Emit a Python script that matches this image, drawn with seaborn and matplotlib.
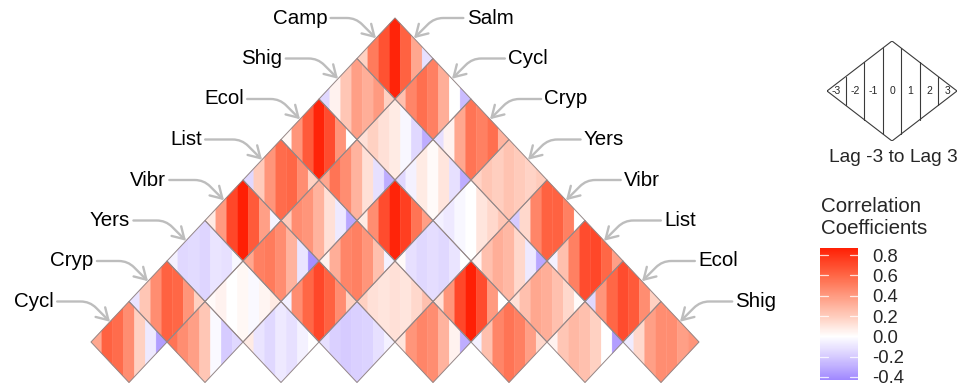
import numpy as np
import matplotlib
matplotlib.use("Agg")
import matplotlib.pyplot as plt
from matplotlib.collections import PolyCollection
from matplotlib.colors import LinearSegmentedColormap, Normalize
from matplotlib.cm import ScalarMappable
import seaborn as sns

sns.set_theme(style="white")
plt.rcParams["font.family"] = ["Liberation Sans", "DejaVu Sans"]

# Pathogens in order along the base of the triangle
pathogens = ["Salm", "Cycl", "Cryp", "Yers", "Vibr", "List", "Ecol", "Shig", "Camp"]
lags = [-3, -2, -1, 0, 1, 2, 3]

# Lagged cross-correlations (lag -3 .. 3) for each pair (a, b), grouped by
# separation b - a; within a group pairs are ordered by a.
corr_sep8 = [[0.18, 0.52, 0.68, 0.85, 0.62, 0.35, -0.12]]
corr_sep7 = [[-0.15, 0.05, 0.22, 0.38, 0.32, 0.40, 0.18],
             [0.25, 0.48, 0.57, 0.50, 0.32, 0.00, -0.25]]
corr_sep6 = [[0.03, 0.42, 0.65, 0.85, 0.70, 0.42, 0.00],
             [0.12, 0.18, 0.12, 0.08, -0.03, -0.15, -0.30],
             [-0.12, 0.05, 0.35, 0.55, 0.50, 0.57, 0.30]]
corr_sep5 = [[-0.15, 0.20, 0.42, 0.58, 0.60, 0.45, 0.18],
             [0.35, 0.55, 0.45, 0.30, 0.12, -0.12, -0.30],
             [-0.15, -0.05, 0.08, 0.02, 0.10, -0.12, -0.30],
             [0.17, 0.22, 0.19, 0.24, 0.20, 0.17, 0.20]]
corr_sep4 = [[0.08, 0.40, 0.72, 0.87, 0.65, 0.38, -0.04],
             [0.20, 0.45, 0.42, 0.30, 0.12, -0.08, -0.32],
             [0.08, 0.45, 0.70, 0.85, 0.75, 0.55, 0.38],
             [-0.05, -0.08, -0.03, 0.00, 0.10, 0.15, 0.22],
             [-0.20, 0.15, 0.48, 0.62, 0.62, 0.50, 0.00]]
corr_sep3 = [[-0.05, -0.15, -0.14, -0.16, -0.10, -0.12, -0.03],
             [0.35, 0.50, 0.52, 0.45, 0.30, -0.10, -0.40],
             [0.05, 0.32, 0.48, 0.50, 0.42, 0.25, -0.05],
             [0.02, -0.12, -0.15, -0.13, -0.15, -0.10, 0.00],
             [0.05, 0.25, 0.32, 0.28, 0.15, -0.08, -0.32],
             [-0.05, 0.25, 0.50, 0.70, 0.72, 0.60, 0.38]]
corr_sep2 = [[-0.10, 0.22, 0.45, 0.62, 0.60, 0.42, 0.18],
             [0.02, 0.05, 0.00, 0.03, -0.02, 0.04, 0.08],
             [-0.05, 0.45, 0.60, 0.72, 0.62, 0.45, 0.18],
             [0.18, 0.12, 0.10, 0.12, 0.10, 0.15, 0.25],
             [0.12, 0.42, 0.72, 0.87, 0.70, 0.40, 0.00],
             [0.12, 0.25, 0.35, 0.32, 0.25, 0.15, 0.02],
             [-0.15, 0.42, 0.60, 0.70, 0.65, 0.45, 0.18]]
corr_sep1 = [[0.35, 0.62, 0.58, 0.45, 0.18, -0.08, -0.35],
             [0.55, 0.45, 0.38, 0.22, -0.02, -0.20, -0.15],
             [0.08, -0.10, -0.15, -0.08, -0.12, -0.05, 0.00],
             [-0.12, -0.18, -0.20, -0.18, -0.17, -0.12, -0.05],
             [0.10, 0.42, 0.48, 0.45, 0.30, 0.05, -0.30],
             [-0.05, 0.25, 0.48, 0.55, 0.50, 0.38, 0.15],
             [0.05, 0.22, 0.28, 0.25, 0.18, 0.00, -0.35],
             [-0.07, 0.15, 0.38, 0.45, 0.45, 0.38, 0.42]]

corr_by_sep = {8: corr_sep8, 7: corr_sep7, 6: corr_sep6, 5: corr_sep5,
               4: corr_sep4, 3: corr_sep3, 2: corr_sep2, 1: corr_sep1}

vmin, vmax = -0.43, 0.87
anchors = [(-0.43, "#A088FF"), (-0.2, "#D6CBFF"), (0.0, "#FFFFFF"),
           (0.2, "#FFCCBC"), (0.4, "#FF9A80"), (0.6, "#FF6746"), (0.87, "#FF2005")]
cmap = LinearSegmentedColormap.from_list(
    "corr", [((v - vmin) / (vmax - vmin), c) for v, c in anchors])
norm = Normalize(vmin=vmin, vmax=vmax)

W, H = 968, 388
fig = plt.figure(figsize=(W / 100, H / 100), dpi=100)
fig.patch.set_facecolor("white")

# main axes: x = a + b, y = b - a, each diamond spans +-1 around its centre
ax = fig.add_axes([0, 0, 1, 1])
px_x, px_y = 38.0, 40.5
x0_px, y0_px = 91.0, 382.5
ax.set_xlim(2 - x0_px / px_x, 2 + (W - x0_px) / px_x)
ax.set_ylim(-(H - y0_px) / px_y, y0_px / px_y)
ax.axis("off")


def strip_polys(cx, cy, n=7):
    edges = np.linspace(-1, 1, n + 1)
    polys = []
    for u0, u1 in zip(edges[:-1], edges[1:]):
        top = [(u0, 1 - abs(u0))]
        if u0 < 0 < u1:
            top.append((0.0, 1.0))
        top.append((u1, 1 - abs(u1)))
        bottom = [(u, -h) for (u, h) in reversed(top)]
        polys.append([(cx + u, cy + h) for u, h in top + bottom])
    return polys


strips, values, outlines = [], [], []
for sep, rows in corr_by_sep.items():
    for i, vals in enumerate(rows):
        a = i + 1
        b = a + sep
        cx, cy = a + b, sep
        strips.extend(strip_polys(cx, cy, len(lags)))
        values.extend(vals)
        outlines.append([(cx - 1, cy), (cx, cy + 1), (cx + 1, cy), (cx, cy - 1)])

pc = PolyCollection(strips, array=np.array(values), cmap=cmap, norm=norm,
                    edgecolors="face", linewidths=0.3)
ax.add_collection(pc)
ax.add_collection(PolyCollection(outlines, facecolors="none",
                                 edgecolors="#958888", linewidths=0.7))

# pathogen labels with elbow arrows
label_size = 14.8
arrow_kw = dict(arrowstyle="->,head_length=0.55,head_width=0.33", color="#BDBDBD",
                lw=1.7, shrinkA=0, shrinkB=0)
for sep in range(8, 0, -1):
    # left edge: diamond (1, 1 + sep)
    tx, ty = 2 + sep, sep + 1
    ax.annotate(pathogens[sep], xy=(tx - 0.5, sep + 0.5), xytext=(tx - 2.5, ty),
                ha="center", va="center", fontsize=label_size, color="black",
                arrowprops=dict(connectionstyle="angle,angleA=0,angleB=-45,rad=9",
                                **arrow_kw))
    # right edge: diamond (9 - sep, 9)
    tx = 18 - sep
    ax.annotate(pathogens[8 - sep], xy=(tx + 0.5, sep + 0.5), xytext=(tx + 2.5, ty),
                ha="center", va="center", fontsize=label_size, color="black",
                arrowprops=dict(connectionstyle="angle,angleA=0,angleB=45,rad=9",
                                **arrow_kw))

# lag key diamond
lax = fig.add_axes([827 / W, 1 - 141 / H, 130 / W, 100 / H])
lax.set_xlim(-1, 1)
lax.set_ylim(-1, 1)
lax.axis("off")
lax.plot([-1, 0, 1, 0, -1], [0, 1, 0, -1, 0], color="#3a3a3a", lw=0.8)
edges = np.linspace(-1, 1, len(lags) + 1)
for u in edges[1:-1]:
    h = 1 - abs(u)
    lax.plot([u, u], [-h, h], color="#3a3a3a", lw=0.8)
for lag, u0, u1 in zip(lags, edges[:-1], edges[1:]):
    lax.text((u0 + u1) / 2, 0, str(lag), ha="center", va="center", fontsize=7.5)
fig.text(893 / W, 1 - 158 / H, "Lag -3 to Lag 3", ha="center", va="center",
         fontsize=13.8)

# colour bar
fig.text(821 / W, 1 - 206 / H, "Correlation", ha="left", va="center", fontsize=14.8)
fig.text(821 / W, 1 - 229 / H, "Coefficients", ha="left", va="center", fontsize=14.8)
cax = fig.add_axes([820 / W, 1 - 380 / H, 38 / W, 132 / H])
cb = fig.colorbar(ScalarMappable(norm=norm, cmap=cmap), cax=cax)
cb.outline.set_visible(False)
ticks = [-0.4, -0.2, 0.0, 0.2, 0.4, 0.6, 0.8]
cb.set_ticks(ticks)
cb.set_ticklabels([f"{t:.1f}" for t in ticks])
cax.tick_params(length=0, pad=10, labelsize=13.3)
ytr = cax.get_yaxis_transform()
for t in ticks:
    cax.plot([0, 0.2], [t, t], color="white", lw=0.9, alpha=0.8, transform=ytr)
    cax.plot([0.8, 1], [t, t], color="white", lw=0.9, alpha=0.8, transform=ytr)

fig.savefig("out.png", dpi=100, facecolor="white")
